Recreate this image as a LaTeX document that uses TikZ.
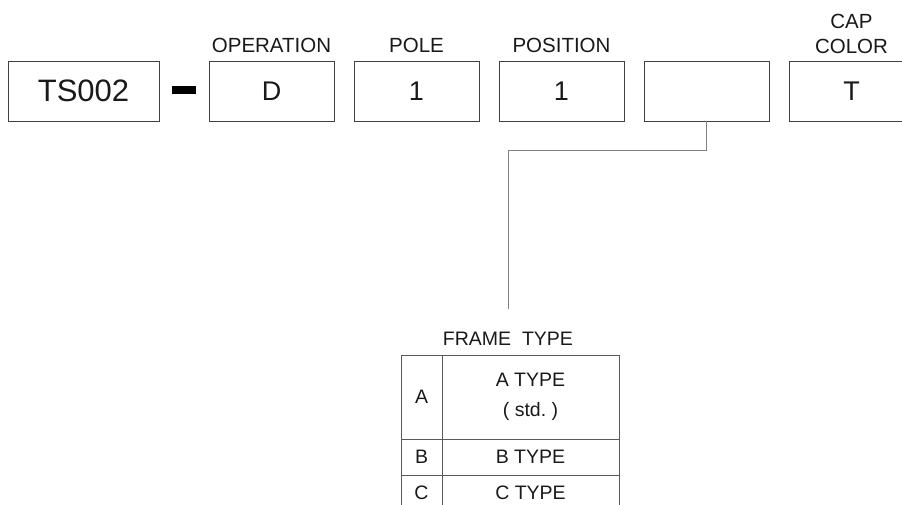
\documentclass[tikz,border=0pt]{standalone}
\usepackage{fontspec}
\setmainfont{Liberation Sans}
\usetikzlibrary{positioning}
\begin{document}
\begin{tikzpicture}[x=1pt,y=-1pt,
    codebox/.style={draw=black!75,line width=0.9pt,minimum width=125pt,minimum height=60pt,inner sep=0pt,text=black!90,font=\fontsize{27}{30}\selectfont},
    hdr/.style={anchor=base,inner sep=0pt,text=black!90,align=center,font=\fontsize{20.5}{25}\selectfont},
    tcell/.style={draw=black!65,line width=0.9pt,inner sep=0pt,text=black!90,align=center,font=\fontsize{19.5}{30}\selectfont},
    wire/.style={draw=black!50,line width=0.9pt}]
    \useasboundingbox (0,0) rectangle (902,505);
    \clip (0,0) rectangle (902,505);

    %Casillas del codigo
    \node[codebox,minimum width=151pt,font=\fontsize{31}{34}\selectfont] (part) at (83.5,91) {TS002};
    \node[fill=black,minimum width=24pt,minimum height=8pt,inner sep=0pt] (hyph) at (184,90) {};
    \foreach \n/\t [count=\i from 0] in {op/D,pole/1,pos/1,frame/{},cap/T}{
        \node[codebox] (\n) at (271.5+145*\i,91) {\t};
    }

    %Rotulos
    \node[hdr] (opl) at (271.5,53) {OPERATION};
    \node[hdr] (polel) at (416.5,53) {POLE};
    \node[hdr] (posl) at (561.5,53) {POSITION};
    \node[hdr] (capl) at (851.5,54) {CAP\\COLOR};

    %Tabla
    \node[tcell,draw=none] (ttl) at (508,338.5) {FRAME\ \ TYPE};
    \foreach \k/\t/\y/\h in {A/{A TYPE\\( std.\ )}/397/84,B/{B TYPE}/457/36,C/{C TYPE}/493/36}{
        \node[tcell,minimum width=41pt,minimum height=\h pt] (key\k) at (421.5,\y) {\k};
        \node[tcell,minimum width=177pt,minimum height=\h pt] (type\k) at (530.5,\y) {\t};
    }

    %Linea guia
    \coordinate (elbow) at (508,150);
    \coordinate (tap) at (508,309);
    \draw[wire] (frame.south) |- (elbow) -- (tap);
\end{tikzpicture}
\end{document}
